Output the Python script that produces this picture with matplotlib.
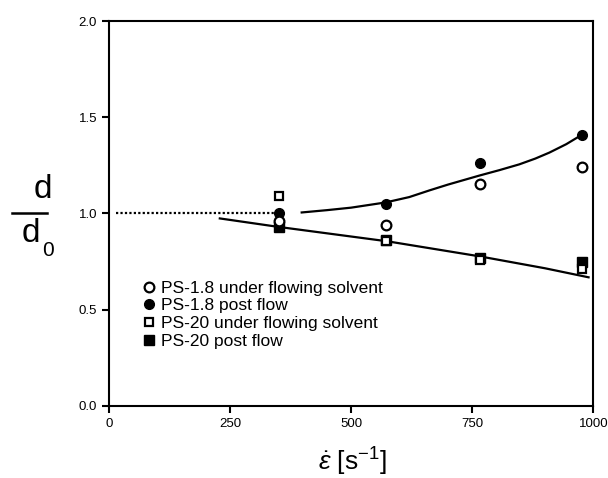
import matplotlib
matplotlib.use("Agg")
import matplotlib.pyplot as plt
from matplotlib.lines import Line2D

plt.rcParams['font.family'] = ['Liberation Sans', 'DejaVu Sans']
plt.rcParams['mathtext.fontset'] = 'custom'
plt.rcParams['mathtext.rm'] = 'Liberation Sans'
plt.rcParams['mathtext.it'] = 'Liberation Sans:italic'

# strain rate values [1/s]
rate = [352, 572, 765, 977]
ps18_under = [0.96, 0.94, 1.155, 1.24]
ps18_post = [1.00, 1.05, 1.26, 1.41]
ps20_under = [1.09, 0.855, 0.757, 0.71]
ps20_post = [0.93, 0.86, 0.77, 0.746]

# fit curves
upper_x = [398, 450, 500, 571, 620, 662, 700, 765, 806, 847, 880, 909, 944, 977]
upper_y = [1.005, 1.017, 1.03, 1.057, 1.085, 1.12, 1.15, 1.197, 1.225, 1.255,
           1.285, 1.316, 1.36, 1.41]
lower_x = [229, 350, 575, 765, 900, 990]
lower_y = [0.974, 0.93, 0.855, 0.777, 0.715, 0.668]
dotted_x = [15, 350]
dotted_y = [1.0, 1.0]

fig = plt.figure(figsize=(6.08, 4.78), dpi=100)
ax = fig.add_axes([0.179, 0.151, 0.797, 0.805])

ax.plot(upper_x, upper_y, color='black', lw=1.6)
ax.plot(lower_x, lower_y, color='black', lw=1.6)
ax.plot(dotted_x, dotted_y, color='black', lw=1.6, ls=(0, (1, 1)))

ms = 7
ax.plot(rate, ps20_post, 's', color='black', ms=ms, label='PS-20 post flow', zorder=3)
ax.plot(rate, ps18_post, 'o', color='black', ms=ms, label='PS-1.8 post flow', zorder=3)
ax.plot(rate, ps20_under, 's', mfc='white', mec='black', mew=1.6, ms=ms - 1,
        label='PS-20 under flowing solvent', zorder=4)
ax.plot(rate, ps18_under, 'o', mfc='white', mec='black', mew=1.6, ms=ms,
        label='PS-1.8 under flowing solvent', zorder=4)

ax.set_xlim(0, 1000)
ax.set_ylim(0, 2.0)
ax.set_xticks([0, 250, 500, 750, 1000])
ax.set_yticks([0.0, 0.5, 1.0, 1.5, 2.0])
ax.set_yticklabels(['0.0', '0.5', '1.0', '1.5', '2.0'])
ax.tick_params(direction='out', length=5, width=1.5, labelsize=9.5)
for s in ax.spines.values():
    s.set_linewidth(1.5)

handles, labels = ax.get_legend_handles_labels()
order = [3, 1, 2, 0]
ax.legend([handles[i] for i in order], [labels[i] for i in order],
          loc='lower left', bbox_to_anchor=(0.05, 0.13), frameon=False,
          fontsize=12.5, handletextpad=0.2, handlelength=1.0,
          labelspacing=0.15, borderaxespad=0)

# y label as a stacked fraction d / d0
fig.text(43 / 608, 1 - 190 / 478, 'd', fontsize=24, ha='center', va='center')
fig.add_artist(Line2D([12 / 608, 47 / 608], [1 - 213 / 478, 1 - 213 / 478],
                      color='black', lw=1.8))
fig.text(31 / 608, 1 - 234 / 478, 'd', fontsize=24, ha='center', va='center')
fig.text(48 / 608, 1 - 250 / 478, '0', fontsize=15, ha='center', va='center')

fig.text(352 / 608, 1 - 462 / 478, r'$\dot{\epsilon}\ [\mathrm{s}^{-1}]$',
         fontsize=19, ha='center', va='center')

fig.savefig('out.png', dpi=100)
